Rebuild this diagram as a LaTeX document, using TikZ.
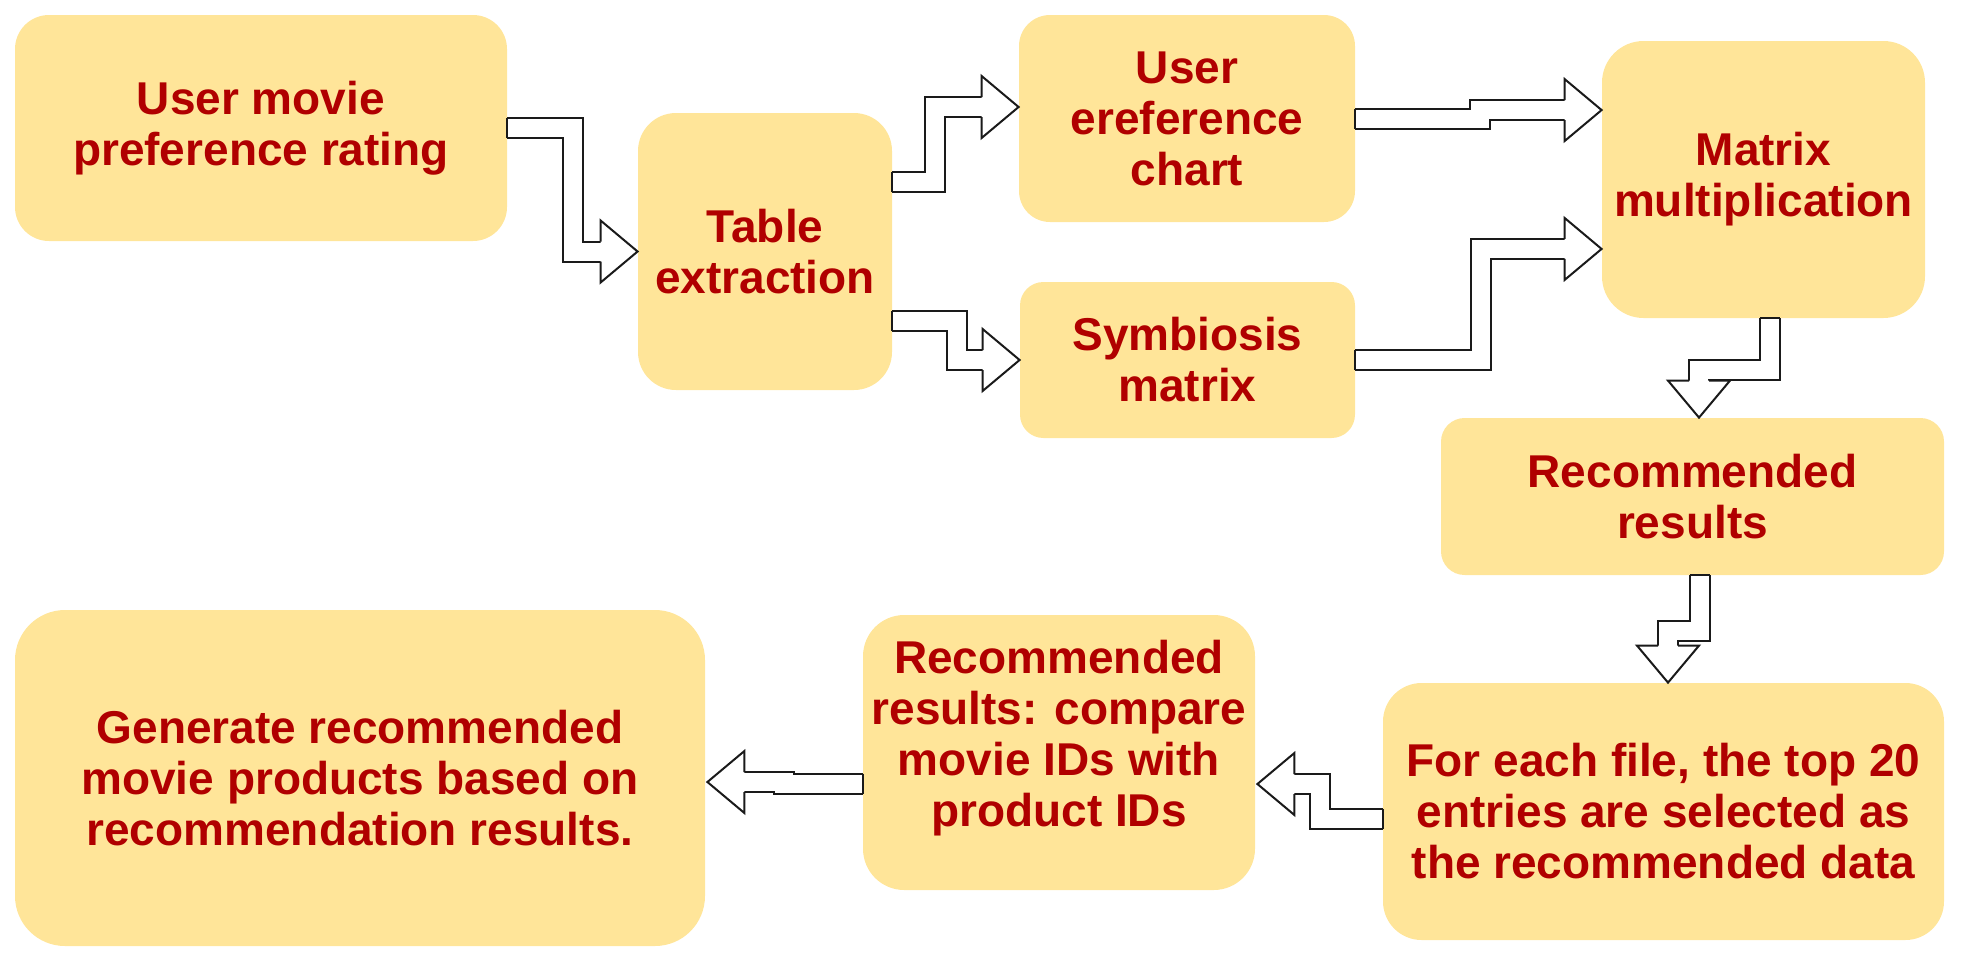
\documentclass[tikz,border=0pt]{standalone}
\usepackage{fontspec}
\setmainfont{Liberation Sans}
\usetikzlibrary{calc}
\definecolor{boxfill}{HTML}{FFE599}
\definecolor{txtred}{HTML}{B00000}
\definecolor{edgecol}{HTML}{1A1A1A}
\begin{document}
\begin{tikzpicture}[x=0.5pt,y=-0.5pt,
  box/.style={fill=boxfill, draw=none, inner sep=0pt, text=txtred, align=center,
    font=\fontsize{23}{25.5}\selectfont\bfseries},
  boxtext/.style={inner sep=0pt, text=txtred, align=center,
    font=\fontsize{23}{25.5}\selectfont\bfseries},
  shaft/.style={draw=edgecol, line width=1pt, double=white, double distance=9pt, line join=miter},
  capline/.style={draw=edgecol, line width=1pt, line cap=square},
  headline/.style={draw=edgecol, fill=white, line width=1pt, line join=miter},
  headR/.pic={\path[headline] (-37,-10) -- (-37,-31) -- (0,0) -- (-37,31) -- (-37,10);},
  headL/.pic={\path[headline] (37,-10) -- (37,-31) -- (0,0) -- (37,31) -- (37,10);},
  headD/.pic={\path[headline] (-10,-37) -- (-31,-37) -- (0,0) -- (31,-37) -- (10,-37);}
]
\useasboundingbox (0,0) rectangle (1967,965);

% boxes
\node[box, minimum width=246pt, minimum height=113pt, rounded corners=17pt] (b1) at (261,128) {User movie\\preference rating};
\node[box, minimum width=127pt, minimum height=138.5pt, rounded corners=19pt] (b2) at (765,251.5) {Table\\extraction};
\node[box, minimum width=168pt, minimum height=103.5pt, rounded corners=15.5pt] (b3) at (1187,118.5) {User\\ereference\\chart};
\node[box, minimum width=167.5pt, minimum height=78pt, rounded corners=11.7pt] (b4) at (1187.5,360) {Symbiosis\\matrix};
\node[box, minimum width=161.5pt, minimum height=138.5pt, rounded corners=20.8pt] (b5) at (1763.5,179.5) {Matrix\\multiplication};
\node[box, minimum width=251.5pt, minimum height=78.5pt, rounded corners=11.8pt] (b6) at (1692.5,496.5) {Recommended\\results};
\node[box, minimum width=280.5pt, minimum height=128.5pt, rounded corners=19.3pt] (b7) at (1663.5,811.5) {For each file, the top 20\\entries are selected as\\the recommended data};
\node[box, minimum width=196pt, minimum height=137.5pt, rounded corners=20.6pt] (b8) at (1059,752.5) {};
\node[boxtext] (t8) at ($(b8.center)+(0,-14)$) {Recommended\\results: compare\\movie IDs with\\product IDs};
\node[box, minimum width=345pt, minimum height=168pt, rounded corners=25pt] (b9) at (360,778) {Generate recommended\\movie products based on\\recommendation results.};

% A: b1 -> b2
\coordinate (sA) at (b1.east);
\coordinate (tA) at (b2.west);
\draw[shaft] (sA) -- ++(66,0) |- ($(tA)+(-37,0)$);
\draw[capline] ($(sA)+(0,-10)$) -- ($(sA)+(0,10)$);
\pic at (tA) {headR};

% B: b2 -> b3
\coordinate (sB) at ($(b2.north east)!0.25!(b2.south east)$);
\coordinate (tB) at ($(b3.west)+(0,-11.5)$);
\draw[shaft] (sB) -- ++(43,0) |- ($(tB)+(-37,0)$);
\draw[capline] ($(sB)+(0,-10)$) -- ($(sB)+(0,10)$);
\pic at (tB) {headR};

% C: b2 -> b4
\coordinate (sC) at ($(b2.north east)!0.75!(b2.south east)$);
\coordinate (tC) at (b4.west);
\draw[shaft] (sC) -- ++(65,0) |- ($(tC)+(-37,0)$);
\draw[capline] ($(sC)+(0,-10)$) -- ($(sC)+(0,10)$);
\pic at (tC) {headR};

% D: b3 -> b5
\coordinate (sD) at (b3.east);
\coordinate (tD) at ($(b5.north west)!0.25!(b5.south west)$);
\draw[shaft] (sD) -- ++(125,0) |- ($(tD)+(-37,0)$);
\draw[capline] ($(sD)+(0,-10)$) -- ($(sD)+(0,10)$);
\pic at (tD) {headR};

% E: b4 -> b5
\coordinate (sE) at (b4.east);
\coordinate (tE) at ($(b5.north west)!0.75!(b5.south west)$);
\draw[shaft] (sE) -- ++(126,0) |- ($(tE)+(-37,0)$);
\draw[capline] ($(sE)+(0,-10)$) -- ($(sE)+(0,10)$);
\pic at (tE) {headR};

% F: b5 -> b6
\coordinate (sF) at ($(b5.south)+(6.5,0)$);
\coordinate (tF) at ($(b6.north)+(6.5,0)$);
\draw[shaft] (sF) -- ++(0,52) -| ($(tF)+(0,-37)$);
\draw[capline] ($(sF)+(-10,0)$) -- ($(sF)+(10,0)$);
\pic at (tF) {headD};

% G: b6 -> b7
\coordinate (sG) at ($(b6.south)+(7.5,0)$);
\coordinate (tG) at ($(b7.north)+(4.5,0)$);
\draw[shaft] (sG) -- ++(0,56) -| ($(tG)+(0,-37)$);
\draw[capline] ($(sG)+(-10,0)$) -- ($(sG)+(10,0)$);
\pic at (tG) {headD};

% H: b7 -> b8
\coordinate (sH) at ($(b7.west)+(0,7.5)$);
\coordinate (tH) at ($(b8.east)+(2,31.5)$);
\draw[shaft] (sH) -- ++(-63,0) |- ($(tH)+(37,0)$);
\draw[capline] ($(sH)+(0,-10)$) -- ($(sH)+(0,10)$);
\pic at (tH) {headL};

% I: b8 -> b9
\coordinate (sI) at ($(b8.west)+(0,31)$);
\coordinate (tI) at ($(b9.east)+(2,4)$);
\draw[shaft] (sI) -- ++(-79,0) |- ($(tI)+(37,0)$);
\draw[capline] ($(sI)+(0,-10)$) -- ($(sI)+(0,10)$);
\pic at (tI) {headL};
\end{tikzpicture}
\end{document}
